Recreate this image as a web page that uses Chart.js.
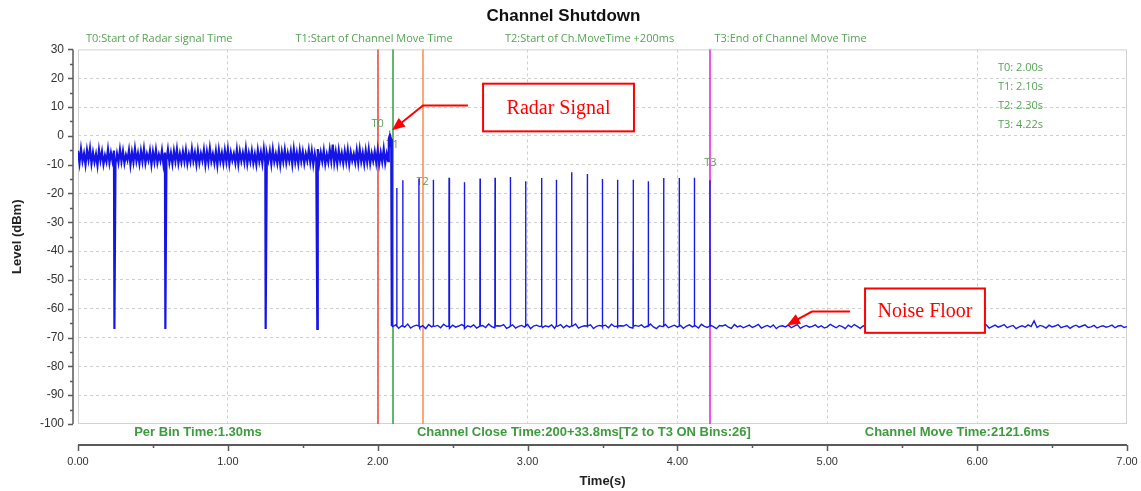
<!DOCTYPE html>
<html>
<head>
<meta charset="utf-8">
<script src="https://cdn.jsdelivr.net/npm/chart.js@4.4.1/dist/chart.umd.min.js"></script>
<style>
  html, body { margin: 0; padding: 0; background: #fff; }
</style>
</head>
<body>
<canvas id="shutdown" width="1141" height="491"></canvas>
<script>
// Level (dBm) against time (s)

// noisy in-band level before the radar burst, one sample every 10 ms from 0 s
const bandStart = 0.00, bandStep = 0.01;
const bandLevels = [
  -5.2, -9.4, -4.6, -8.8, -6.1, -9.9, -5.0, -8.3, -4.4, -9.6,
  -5.8, -9.1, -6.4, -10.2, -4.9, -8.6, -5.5, -9.8, -6.8, -9.0,
  -4.7, -9.3, -5.9, -8.7, -5.1, -9.7, -6.2, -9.2, -4.8, -8.9,
  -5.4, -9.5, -6.6, -8.4, -5.0, -10.0, -5.7, -9.1, -4.5, -8.8,
  -6.0, -9.6, -5.3, -8.9, -4.6, -9.4, -6.3, -8.5, -5.2, -9.9,
  -5.6, -9.0, -4.9, -9.3, -6.5, -8.7, -5.1, -9.8, -5.8, -8.6,
  -4.8, -9.2, -6.0, -9.7, -5.3, -8.8, -4.7, -9.5, -6.2, -9.1,
  -5.5, -8.9, -5.0, -9.6, -6.4, -9.0, -4.6, -8.7, -5.9, -9.8,
  -5.2, -9.3, -6.1, -8.6, -4.9, -9.9, -5.6, -9.2, -4.4, -8.8,
  -6.3, -9.4, -5.4, -10.1, -5.0, -8.9, -6.0, -9.5, -5.1, -9.0,
  -4.7, -9.7, -5.8, -8.5, -6.2, -9.3, -4.9, -9.8, -5.5, -8.7,
  -5.9, -9.1, -4.5, -9.6, -6.0, -8.9, -5.2, -9.4, -6.4, -9.9,
  -5.0, -8.8, -5.7, -9.5, -4.6, -9.2, -6.1, -8.6, -5.3, -9.7,
  -4.8, -9.0, -6.3, -9.4, -5.1, -10.0, -5.6, -8.9, -4.9, -9.3,
  -6.0, -8.7, -5.4, -9.8, -4.7, -9.1, -5.9, -9.6, -5.0, -8.8,
  -5.5, -9.5, -6.2, -8.6, -4.9, -9.2, -5.3, -9.9, -6.1, -9.0,
  -4.6, -9.4, -5.8, -8.9, -5.1, -9.7, -6.4, -9.1, -4.8, -8.7,
  -3.0, -9.3, -5.6, -9.6, -5.0, -8.8, -6.0, -9.5, -5.4, -9.0,
  -4.9, -9.8, -5.7, -8.6, -6.3, -9.2, -5.1, -9.4, -4.7, -8.9,
  -5.9, -9.7, -5.2, -9.1, -4.8, -9.5, -6.1, -8.7, -5.5, -9.3,
  -5.0, -9.6, -5.8, -9.0, -4.6, -9.4, -6.2, -8.8
];

// short drop-outs in the first segment
const dipTimes = [0.243, 0.583, 1.253, 1.597];
const dipLevels = [-67, -67, -67, -67];
const dipMidLevels = [-37, null, -37, null];

// the radar burst and the fall to the noise floor
const radarTimes = [2.074, 2.078, 2.082, 2.086, 2.090, 2.094];
const radarLevels = [-1.0, -0.3, -3.5, -0.5, -1.2, -66.0];

// noise floor after the channel move, one sample every 20 ms from 2.10 s
const floorStart = 2.10, floorStep = 0.02;
const floorLevels = [
  -66.2, -65.6, -66.8, -65.9, -66.4, -65.3, -66.7, -66.0, -65.7, -66.5,
  -65.9, -66.9, -65.5, -66.3, -66.1, -65.8, -66.6, -65.4, -66.2, -66.8,
  -65.7, -66.4, -66.0, -65.5, -66.9, -65.9, -66.3, -65.6, -66.7, -66.1,
  -65.8, -66.5, -65.3, -66.2, -66.6, -65.9, -66.0, -65.5, -66.8, -66.3,
  -65.6, -66.7, -66.1, -65.8, -66.4, -65.4, -66.9, -66.0, -65.7, -66.2,
  -66.5, -65.9, -66.3, -65.6, -66.8, -66.1, -65.5, -66.6, -65.8, -66.4,
  -66.0, -65.3, -66.7, -66.2, -65.9, -66.5, -65.6, -66.9, -66.1, -65.8,
  -66.3, -65.7, -66.6, -65.4, -66.2, -66.8, -65.9, -66.0, -65.5, -66.4,
  -66.7, -65.8, -66.1, -65.6, -66.5, -66.0, -65.3, -66.3, -66.9, -65.9,
  -66.2, -65.5, -66.6, -66.1, -65.7, -66.4, -65.8, -66.8, -66.0, -65.6,
  -66.3, -65.9, -66.7, -65.4, -66.1, -66.5, -65.7, -66.2, -66.9, -65.8,
  -66.0, -65.6, -66.4, -66.8, -65.5, -66.3, -65.9, -66.6, -66.1, -65.7,
  -66.5, -66.0, -65.4, -66.7, -66.2, -65.8, -66.4, -65.6, -66.9, -66.1,
  -65.9, -66.3, -65.7, -66.6, -66.0, -65.5, -66.8, -66.2, -65.8, -66.4,
  -66.1, -65.6, -66.5, -65.9, -66.7, -66.3, -65.4, -66.0, -66.6, -65.8,
  -66.2, -66.9, -65.7, -66.4, -65.5, -66.1, -66.8, -65.9, -66.3, -65.6,
  -66.6, -66.0, -65.8, -66.5, -66.2, -65.4, -66.7, -66.1, -65.9, -66.4,
  -65.7, -66.3, -66.8, -65.6, -66.0, -66.5, -65.8, -66.9, -66.2, -65.5,
  -66.4, -65.9, -66.1, -66.7, -65.6, -66.3, -66.0, -65.7, -66.6, -66.2,
  -65.8, -66.5, -65.4, -66.1, -66.8, -65.9, -66.3, -66.0, -65.6, -66.7,
  -66.2, -65.7, -66.4, -66.0, -65.5, -66.6, -66.1, -65.8, -66.9, -66.3,
  -65.9, -66.4, -65.6, -66.2, -64.2, -66.5, -65.8, -66.1, -66.7, -65.7,
  -66.3, -66.0, -65.5, -66.6, -66.2, -65.9, -66.8, -66.1, -65.7, -66.4,
  -66.0, -65.6, -66.5, -66.3, -65.8, -66.7, -66.2, -65.9, -66.4, -66.1,
  -65.7, -66.6, -66.0, -65.8, -66.5, -66.2
];

// ON bins between T1 and T3
const spikeBase = -66;
const spikeTimes = [2.127, 2.167, 2.275, 2.371, 2.476, 2.578, 2.683, 2.783, 2.885, 2.987, 3.094,
                    3.192, 3.294, 3.399, 3.499, 3.601, 3.705, 3.806, 3.908, 4.012, 4.113, 4.217];
const spikePeaks = [-18.1, -15.4, -14.8, -15.2, -14.5, -16.1, -14.8, -14.5, -14.3, -15.8, -14.6,
                    -15.2, -12.6, -13.2, -15.0, -15.2, -15.2, -15.8, -14.6, -14.6, -14.5, -15.4];
const spikeMidLevels = [null, null, null, null, -40.7, null, null, -40.0, null, null, -40.7,
                        null, null, -39.3, null, null, -40.0, -41.5, null, null, null, null];

// event markers
const markerNames = ['T0', 'T1', 'T2', 'T3'];
const markerTimes = [2.00, 2.10, 2.30, 4.22];
const markerLabelLevels = [4.3, -3.3, -15.8, -9.5];
const markerCaptions = ['T0:Start of Radar signal Time', 'T1:Start of Channel Move Time',
                        'T2:Start of Ch.MoveTime +200ms', 'T3:End of Channel Move Time'];
const summaryLines = ['Per Bin Time:1.30ms', 'Channel Close Time:200+33.8ms[T2 to T3 ON Bins:26]',
                      'Channel Move Time:2121.6ms'];

const markerColors = ['#e8453f', '#2f9e3f', '#ff8a45', '#e020e0'];
const green = '#3d9b3d';

// trace before the move: noisy band, drop-outs, radar burst
const before = [];
bandLevels.forEach((v, i) => before.push({x: bandStart + i * bandStep, y: v}));
dipTimes.forEach((t, i) => {
  if (dipMidLevels[i] !== null) before.push({x: t - 0.0015, y: dipMidLevels[i]});
  before.push({x: t, y: dipLevels[i]});
});
radarTimes.forEach((t, i) => before.push({x: t, y: radarLevels[i]}));
before.sort((p, q) => p.x - q.x);

// trace after the move: noise floor with the ON bins
const after = [before[before.length - 1]];
floorLevels.forEach((v, i) => after.push({x: floorStart + i * floorStep, y: v}));
spikeTimes.forEach((t, i) => {
  after.push({x: t - 0.0015, y: spikeBase});
  if (spikeMidLevels[i] !== null) after.push({x: t - 0.0008, y: spikeMidLevels[i]});
  after.push({x: t, y: spikePeaks[i]});
  after.push({x: t + 0.0015, y: spikeBase});
});
after.sort((p, q) => p.x - q.x);

function drawArrow(ctx, pts) {
  const n = pts.length;
  const p = pts[n - 2], q = pts[n - 1];
  const ang = Math.atan2(q[1] - p[1], q[0] - p[0]);
  const len = 13, half = 5.5;
  ctx.beginPath();
  ctx.moveTo(pts[0][0], pts[0][1]);
  for (let i = 1; i < n - 1; i++) ctx.lineTo(pts[i][0], pts[i][1]);
  ctx.lineTo(q[0] - (len - 2) * Math.cos(ang), q[1] - (len - 2) * Math.sin(ang));
  ctx.stroke();
  ctx.beginPath();
  ctx.moveTo(q[0], q[1]);
  ctx.lineTo(q[0] - len * Math.cos(ang) + half * Math.sin(ang), q[1] - len * Math.sin(ang) - half * Math.cos(ang));
  ctx.lineTo(q[0] - len * Math.cos(ang) - half * Math.sin(ang), q[1] - len * Math.sin(ang) + half * Math.cos(ang));
  ctx.closePath();
  ctx.fill();
}

// red callouts, placed in axis units
const callouts = [
  {text: 'Radar Signal', box: [2.703, 3.710, 18.1, 1.56], arrow: [[2.602, 10.5], [2.302, 10.5], [2.095, 1.9]]},
  {text: 'Noise Floor', box: [5.252, 6.052, -52.97, -68.36], arrow: [[5.152, -61.0], [4.898, -61.0], [4.731, -65.7]]}
];

const decor = {
  id: 'decor',
  beforeDatasetsDraw(chart) {
    const {ctx, chartArea: a, scales: {x, y}} = chart;
    ctx.save();
    ctx.strokeStyle = '#d2d2d2';
    ctx.lineWidth = 1;
    ctx.strokeRect(a.left + 0.5, a.top + 0.5, a.width - 1, a.height - 1);
    markerTimes.forEach((t, i) => {
      const px = Math.round(x.getPixelForValue(t));
      ctx.strokeStyle = markerColors[i];
      ctx.lineWidth = 1.5;
      ctx.beginPath();
      ctx.moveTo(px, a.top);
      ctx.lineTo(px, a.bottom);
      ctx.stroke();
    });
    ctx.font = '11px "Open Sans"';
    ctx.fillStyle = '#5c9c5c';
    ctx.textAlign = 'center';
    ctx.textBaseline = 'middle';
    markerTimes.forEach((t, i) => {
      ctx.fillText(markerNames[i], x.getPixelForValue(t), y.getPixelForValue(markerLabelLevels[i]));
    });
    ctx.restore();
  },
  afterDatasetsDraw(chart) {
    const {ctx, scales: {x, y}} = chart;
    ctx.save();
    callouts.forEach(c => {
      const l = x.getPixelForValue(c.box[0]), r = x.getPixelForValue(c.box[1]);
      const t = y.getPixelForValue(c.box[2]), b = y.getPixelForValue(c.box[3]);
      ctx.fillStyle = '#fff';
      ctx.fillRect(l, t, r - l, b - t);
      ctx.strokeStyle = '#ff0000';
      ctx.lineWidth = 2;
      ctx.strokeRect(l, t, r - l, b - t);
      ctx.fillStyle = '#ff0000';
      ctx.font = '20px "Liberation Serif"';
      ctx.textAlign = 'center';
      ctx.textBaseline = 'middle';
      ctx.fillText(c.text, (l + r) / 2, (t + b) / 2 + 1);
      drawArrow(ctx, c.arrow.map(p => [x.getPixelForValue(p[0]), y.getPixelForValue(p[1])]));
    });
    ctx.restore();
  },
  afterDraw(chart) {
    const {ctx, chartArea: a, scales: {x, y}} = chart;
    ctx.save();
    // detached level axis
    const ax = a.left - 5;
    ctx.strokeStyle = '#5a5a5a';
    ctx.lineWidth = 1.5;
    ctx.beginPath();
    ctx.moveTo(ax, a.top);
    ctx.lineTo(ax, a.bottom);
    for (let v = -100; v <= 30; v += 5) {
      const py = Math.round(y.getPixelForValue(v)) + 0.5;
      ctx.moveTo(ax - (v % 10 === 0 ? 5 : 3), py);
      ctx.lineTo(ax, py);
    }
    ctx.stroke();
    // detached time axis
    const ay = a.bottom + 21;
    ctx.lineWidth = 2;
    ctx.beginPath();
    ctx.moveTo(a.left, ay);
    ctx.lineTo(a.right, ay);
    ctx.stroke();
    ctx.lineWidth = 1.5;
    ctx.beginPath();
    for (let t = 0; t <= 7; t += 0.5) {
      const px = Math.round(x.getPixelForValue(t)) + 0.5;
      ctx.moveTo(px, ay);
      ctx.lineTo(px, ay + (t % 1 === 0 ? 6 : 3));
    }
    ctx.stroke();
    // captions above the plot
    ctx.font = '11px "Open Sans"';
    ctx.fillStyle = '#55a355';
    ctx.textAlign = 'left';
    ctx.textBaseline = 'middle';
    markerCaptions.forEach((s, i) => ctx.fillText(s, a.left + 8 + i * 209.5, a.top - 11));
    // marker times, top right
    markerNames.forEach((n, i) => {
      ctx.fillText(n + ': ' + markerTimes[i].toFixed(2) + 's', a.right - 129, a.top + 18 + i * 19);
    });
    // summary line under the plot
    ctx.font = 'bold 13px "Liberation Sans"';
    ctx.fillStyle = green;
    const sx = [0.375, 2.262, 5.25];
    summaryLines.forEach((s, i) => ctx.fillText(s, x.getPixelForValue(sx[i]), a.bottom + 8));
    ctx.restore();
  }
};

Chart.defaults.font.family = '"Liberation Sans", Arial, sans-serif';

new Chart(document.getElementById('shutdown'), {
  type: 'line',
  data: {
    datasets: [{
      label: 'Before move',
      data: before,
      borderColor: '#1414e6',
      borderWidth: 2.2,
      pointRadius: 0,
      tension: 0,
      fill: false
    }, {
      label: 'After move',
      data: after,
      borderColor: '#1a1ae8',
      borderWidth: 1.4,
      pointRadius: 0,
      tension: 0,
      fill: false
    }]
  },
  options: {
    responsive: false,
    animation: false,
    events: [],
    layout: {padding: {left: 0, right: 14, top: 0, bottom: 0}},
    plugins: {
      legend: {display: false},
      tooltip: {enabled: false},
      title: {
        display: true,
        text: 'Channel Shutdown',
        color: '#111',
        font: {size: 17, weight: 'bold'},
        padding: {top: 6, bottom: 23}
      }
    },
    scales: {
      x: {
        type: 'linear',
        min: 0,
        max: 7,
        afterFit: s => { s.height = 67; s.paddingLeft = 0; s.paddingRight = 0; },
        border: {display: false, dash: [3, 3]},
        grid: {
          drawTicks: false,
          color: c => (c.tick && (c.tick.value === 0 || c.tick.value === 7)) ? 'rgba(0,0,0,0)' : '#cfcfcf'
        },
        ticks: {
          stepSize: 1,
          padding: 31,
          color: '#333',
          font: {size: 11},
          maxRotation: 0,
          callback: v => Number(v).toFixed(2)
        },
        title: {
          display: true,
          text: 'Time(s)',
          color: '#222',
          font: {size: 13, weight: 'bold'},
          padding: {top: 0, bottom: 2}
        }
      },
      y: {
        min: -100,
        max: 30,
        afterFit: s => { s.width = 78; },
        border: {display: false, dash: [3, 3]},
        grid: {
          drawTicks: false,
          color: c => (c.tick && (c.tick.value === -100 || c.tick.value === 30)) ? 'rgba(0,0,0,0)' : '#cfcfcf'
        },
        ticks: {
          stepSize: 10,
          padding: 14,
          color: '#333',
          font: {size: 12},
          callback: v => String(v)
        },
        title: {
          display: true,
          text: 'Level (dBm)',
          color: '#222',
          font: {size: 13, weight: 'bold'},
          padding: {top: 10, bottom: 0}
        }
      }
    }
  },
  plugins: [decor]
});
</script>
</body>
</html>
